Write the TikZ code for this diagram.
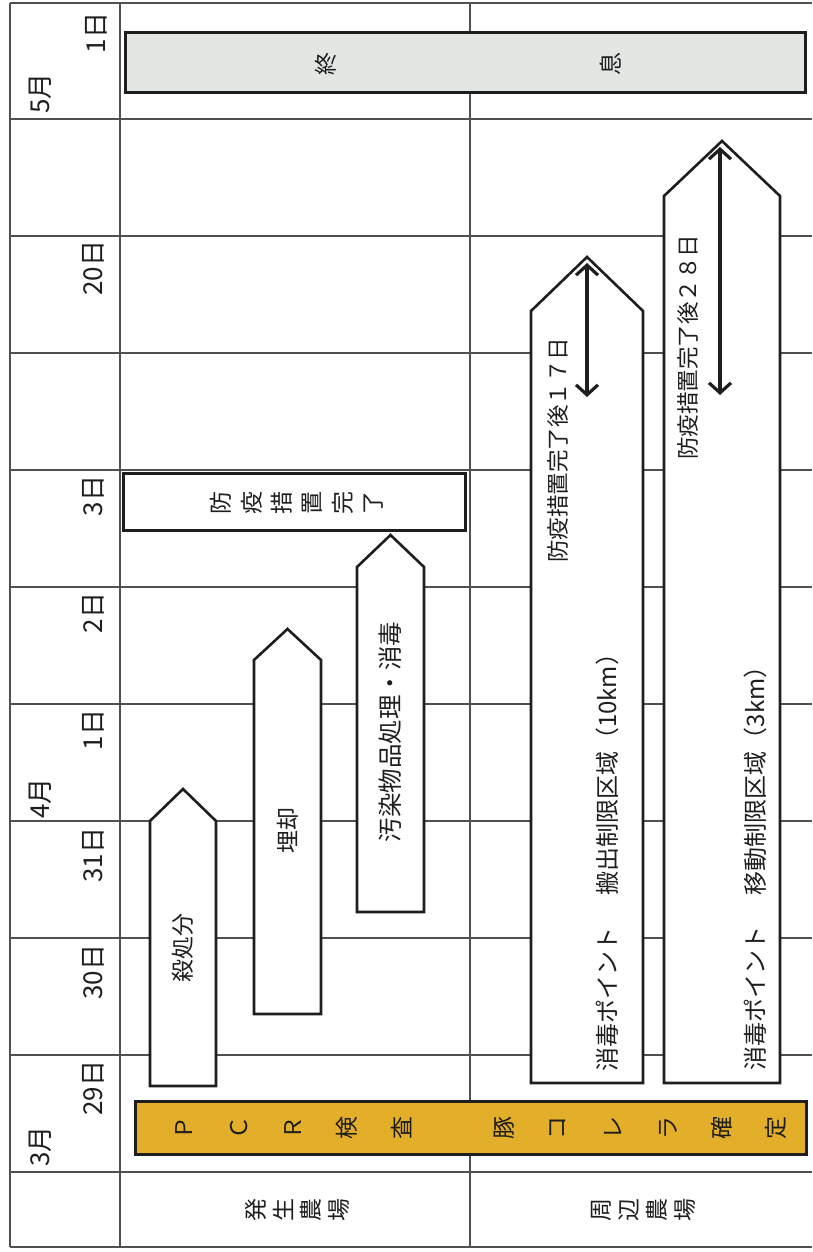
\documentclass[tikz,border=0pt]{standalone}
\usepackage{fontspec}
\setmainfont{Noto Sans CJK JP}
\usetikzlibrary{arrows.meta}
\definecolor{gold}{RGB}{227,174,42}
\definecolor{endfill}{RGB}{226,231,227}
\definecolor{ink}{RGB}{30,30,30}
\definecolor{gridc}{RGB}{80,80,80}
\begin{document}
\begin{tikzpicture}[x=1pt,y=-1pt,
  gridline/.style={draw=gridc,line width=1.3pt},
  boxline/.style={draw=ink,line width=3pt},
  arrowshape/.style={draw=ink,line width=2.6pt,fill=white,line join=miter},
  txt/.style={text=ink,inner sep=0pt,font=\fontsize{23}{26}\selectfont},
  rtxt/.style={txt,rotate=90},
  datelbl/.style={rtxt,anchor=east,font=\fontsize{26}{28}\selectfont},
  monthlbl/.style={rtxt,anchor=west,font=\fontsize{26}{28}\selectfont},
  vchar/.style={rtxt,font=\fontsize{23}{25}\selectfont},
  spanarrow/.style={draw=ink,line width=3.2pt,{Straight Barb[length=10pt,width=22pt]}-{Straight Barb[length=10pt,width=22pt]}}
]
\useasboundingbox (0,0) rectangle (812,1252);
\fill[white] (0,0) rectangle (812,1252);
% grid
\foreach \y in {3,119,236,353,470,587,704,821,938,1055,1172,1247}
  \draw[gridline] (10,\y) -- (812,\y);
\foreach \x in {10,120,470}
  \draw[gridline] (\x,3) -- (\x,1247);
% date column
\node[datelbl] (d0501) at (96,12.5) {1日};
\node[monthlbl] (m05) at (40,114) {5月};
\node[datelbl] (d0420) at (93,240.5) {20日};
\node[datelbl] (d0403) at (93,475.5) {3日};
\node[datelbl] (d0402) at (93,592.5) {2日};
\node[datelbl] (d0401) at (93,709.5) {1日};
\node[monthlbl] (m04) at (40,819) {4月};
\node[datelbl] (d0331) at (93,827.5) {31日};
\node[datelbl] (d0330) at (93,944.5) {30日};
\node[datelbl] (d0329) at (93,1060.5) {29日};
\node[monthlbl] (m03) at (40,1167) {3月};
% end box
\draw[boxline,fill=endfill] (125,33) rectangle (805,93);
\node[vchar] (shu) at (326,64) {終};
\node[vchar] (soku) at (611,64) {息};
% completion box
\draw[boxline,fill=white] (123,473) rectangle (465,530);
\foreach \c [count=\i from 0] in {防,疫,措,置,完,了}
  \node[vchar] (kan\i) at ({221+30.5*\i},503) {\c};
% arrows in origin farm
\draw[arrowshape] (150,1086) -- (150,821) -- (183,789) -- (216,821) -- (216,1086) -- cycle;
\node[rtxt] (tsatsu) at (183,948) {殺処分};
\draw[arrowshape] (254,1014) -- (254,660) -- (287.5,629) -- (321,660) -- (321,1014) -- cycle;
\node[rtxt] (tmai) at (287.5,830) {埋却};
\draw[arrowshape] (357,912) -- (357,567) -- (390.5,535) -- (424,567) -- (424,912) -- cycle;
\node[rtxt,font=\fontsize{24.5}{26}\selectfont] (tosen) at (390.5,732) {汚染物品処理・消毒};
% arrows in surrounding farms
\draw[arrowshape] (531,1083) -- (531,311) -- (587,257) -- (643,311) -- (643,1083) -- cycle;
\node[rtxt,font=\fontsize{24}{26}\selectfont] (thanshutsu) at (607,856.5) {消毒ポイント\hspace{1.3em}搬出制限区域（10km）};
\node[rtxt,font=\fontsize{22.5}{24}\selectfont] (t17) at (558,450) {防疫措置完了後１７日};
\coordinate (s1a) at (587,263);
\coordinate (s1b) at (587,397);
\draw[spanarrow] (s1a) -- (s1b);
\draw[arrowshape] (664,1083) -- (664,196) -- (722,141) -- (780,196) -- (780,1083) -- cycle;
\node[rtxt,font=\fontsize{24}{26}\selectfont] (tidou) at (755,862.5) {消毒ポイント\hspace{1.3em}移動制限区域（3km）};
\node[rtxt,font=\fontsize{22.5}{24}\selectfont] (t28) at (688,347) {防疫措置完了後２８日};
\coordinate (s2a) at (720,147);
\coordinate (s2b) at (720,395);
\draw[spanarrow] (s2a) -- (s2b);
% PCR bar
\draw[boxline,fill=gold] (135,1101) rectangle (806,1154);
\foreach \c/\x [count=\i] in {Ｐ/184,Ｃ/239,Ｒ/293,検/347,査/402,豚/504,コ/558,レ/613,ラ/668,確/722,定/776}
  \node[vchar] (pcr\i) at (\x,1128) {\c};
% row headers
\foreach \c/\x [count=\i] in {発/256,生/283.5,農/311,場/338.5}
  \node[vchar] (hass\i) at (\x,1210) {\c};
\foreach \c/\x [count=\i] in {周/601,辺/629,農/657,場/685}
  \node[vchar] (shuu\i) at (\x,1210) {\c};
\end{tikzpicture}
\end{document}
